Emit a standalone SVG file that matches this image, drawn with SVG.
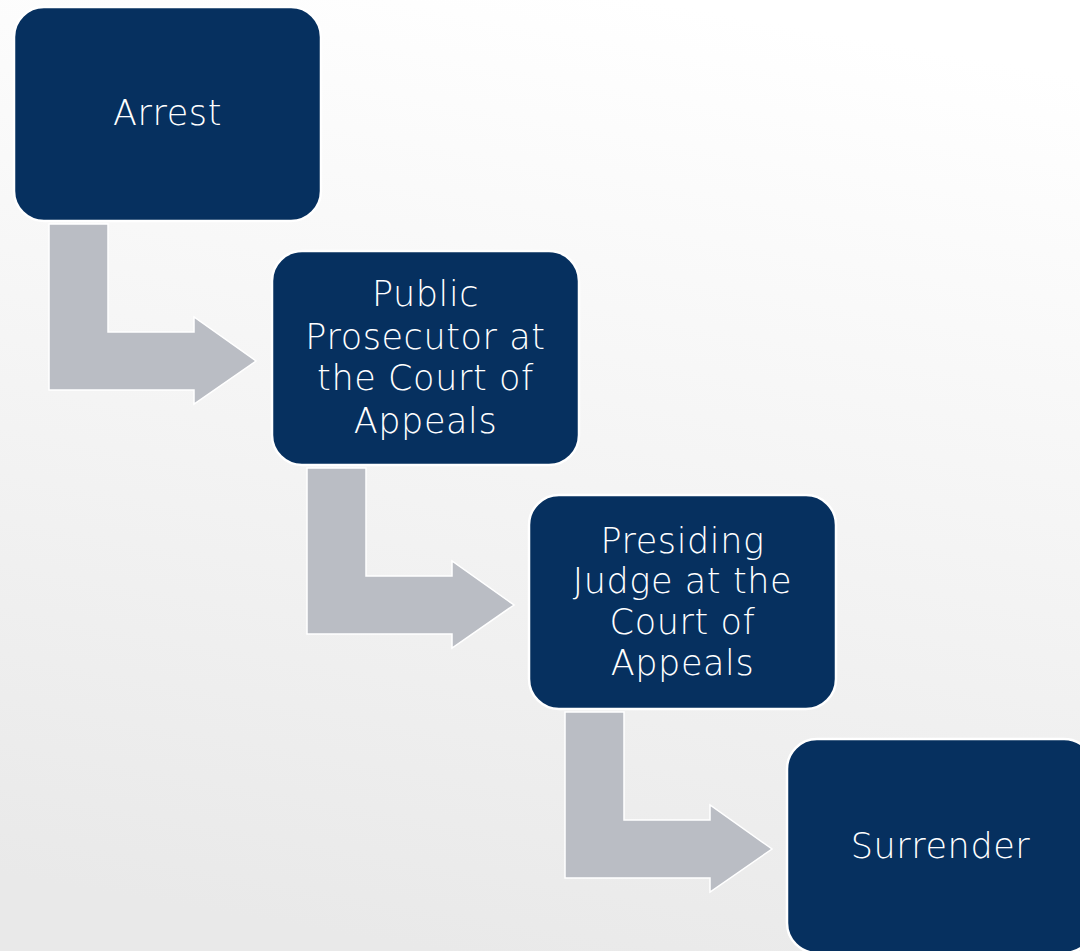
<svg xmlns="http://www.w3.org/2000/svg" width="1080" height="951" viewBox="0 0 1080 951">
  <defs>
    <linearGradient id="bg" x1="0.6" y1="0" x2="0.4" y2="1">
      <stop offset="0" stop-color="#ffffff"/>
      <stop offset="1" stop-color="#e9e9e9"/>
    </linearGradient>
    <style>
      .box { fill: #06305f; stroke: #ffffff; stroke-width: 2.5; }
      .arrow { fill: #babdc4; stroke: #ffffff; stroke-width: 1.5; stroke-linejoin: miter; }
      .lbl { fill: #ffffff; font-family: "DejaVu Sans", "Liberation Sans", sans-serif; font-weight: 200; font-size: 35px; letter-spacing: 0.6px; text-anchor: middle; }
    </style>
  </defs>
  <rect x="0" y="0" width="1080" height="951" fill="url(#bg)"/>
  <g id="connectors">
    <path class="arrow" d="M49,224 H108 V332 H194 V317 L256,361 L194,404 V390 H49 Z"/>
    <path class="arrow" d="M307,468 H366 V576 H452 V561 L514,605 L452,648 V634 H307 Z"/>
    <path class="arrow" d="M565,712 H624 V820 H710 V805 L772,849 L710,892 V878 H565 Z"/>
  </g>
  <g id="node-arrest">
    <rect class="box" x="14" y="7" width="307" height="214" rx="30" ry="30"/>
    <text class="lbl" x="167.5" y="125">Arrest</text>
  </g>
  <g id="node-prosecutor">
    <rect class="box" x="272" y="251" width="307" height="214" rx="30" ry="30"/>
    <text class="lbl" x="425.5" y="306">Public</text>
    <text class="lbl" x="425.5" y="349">Prosecutor at</text>
    <text class="lbl" x="425.5" y="390">the Court of</text>
    <text class="lbl" x="425.5" y="433">Appeals</text>
  </g>
  <g id="node-judge">
    <rect class="box" x="529" y="495" width="307" height="214" rx="30" ry="30"/>
    <text class="lbl" x="682.5" y="553">Presiding</text>
    <text class="lbl" x="682.5" y="593">Judge at the</text>
    <text class="lbl" x="682.5" y="634">Court of</text>
    <text class="lbl" x="682.5" y="675">Appeals</text>
  </g>
  <g id="node-surrender">
    <rect class="box" x="787" y="739" width="307" height="214" rx="30" ry="30"/>
    <text class="lbl" x="940.5" y="858">Surrender</text>
  </g>
</svg>
